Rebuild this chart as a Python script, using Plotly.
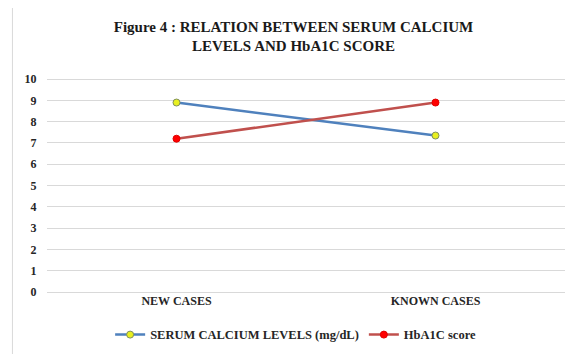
import plotly.graph_objects as go

categories = ["NEW CASES", "KNOWN CASES"]
serum_calcium = [8.9, 7.35]
hba1c = [7.2, 8.9]
y_ticks = list(range(0, 11))

FONT = "Liberation Serif"

fig = go.Figure()
fig.add_trace(go.Scatter(
    x=categories, y=serum_calcium, mode="lines+markers",
    name="<b>SERUM CALCIUM LEVELS (mg/dL)</b>",
    line=dict(color="#4F81BD", width=2.5),
    marker=dict(color="#E8F020", size=7, line=dict(color="#7F8F60", width=1)),
))
fig.add_trace(go.Scatter(
    x=categories, y=hba1c, mode="lines+markers",
    name="<b>HbA1C score</b>",
    line=dict(color="#C0504D", width=2.5),
    marker=dict(color="#FF0000", size=7, line=dict(color="#E00000", width=1)),
))

fig.update_layout(
    width=571, height=346,
    margin=dict(l=39, r=14, t=69, b=62, autoexpand=False),
    paper_bgcolor="white", plot_bgcolor="white",
    font=dict(family=FONT, size=12, color="#262626"),
    title=dict(
        text="<b>Figure 4 : RELATION BETWEEN SERUM CALCIUM<br>LEVELS AND HbA1C SCORE</b>",
        x=0.5, xanchor="center", y=0.931, yanchor="top",
        font=dict(family=FONT, size=15, color="#1a1a1a"),
    ),
    xaxis=dict(
        type="category", range=[-0.5, 1.5], showgrid=False, showline=False,
        ticks="", tickfont=dict(family=FONT, size=12, color="#262626"),
        tickvals=categories, ticktext=["<b>%s</b>" % c for c in categories],
    ),
    yaxis=dict(
        range=[0, 10.1], tickvals=y_ticks, ticktext=["<b>%d</b>" % v for v in y_ticks],
        showgrid=True, gridcolor="#D9D9D9", gridwidth=1, zeroline=True,
        zerolinecolor="#D9D9D9", zerolinewidth=1, showline=False,
        ticks="outside", ticklen=7, tickcolor="rgba(0,0,0,0)",
        tickfont=dict(family=FONT, size=12, color="#262626"),
    ),
    showlegend=True,
    legend=dict(
        orientation="h", x=0.48, xanchor="center",
        yref="container", y=0.055, yanchor="middle",
        font=dict(family=FONT, size=12.5, color="#262626"),
        itemwidth=30, tracegroupgap=0,
    ),
    shapes=[dict(
        type="rect", xref="paper", yref="paper",
        x0=-0.0667, x1=1.2, y0=-0.5, y1=1.33,
        line=dict(color="#D9D9D9", width=1), fillcolor="rgba(0,0,0,0)", layer="below",
    )],
)

fig.write_html("out.html")
